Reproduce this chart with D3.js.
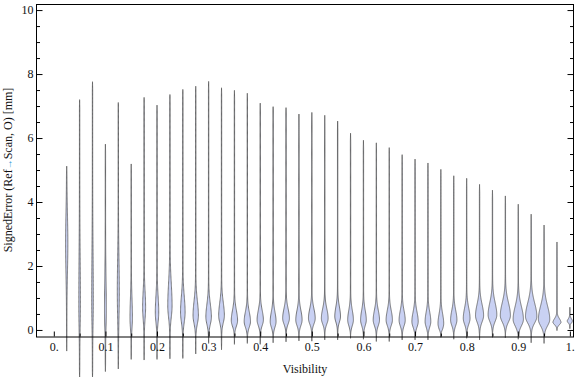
<!DOCTYPE html>
<html>
<head>
<meta charset="utf-8">
<script src="https://cdn.jsdelivr.net/npm/d3@7"></script>
<style>
  body { margin: 0; background: #fff; }
  text { font-family: "Liberation Serif", "DejaVu Serif", serif; }
</style>
</head>
<body>
<svg id="root" width="576" height="377"></svg>
<script>
var d3 = window.d3

const width = 576
const height = 377

// one violin per visibility level
const visibility = [0.025, 0.05, 0.075, 0.1, 0.125, 0.15, 0.175, 0.2, 0.225, 0.25,
  0.275, 0.3, 0.325, 0.35, 0.375, 0.4, 0.425, 0.45, 0.475, 0.5,
  0.525, 0.55, 0.575, 0.6, 0.625, 0.65, 0.675, 0.7, 0.725, 0.75,
  0.775, 0.8, 0.825, 0.85, 0.875, 0.9, 0.925, 0.95, 0.975, 1.0]

// largest and smallest signed error per violin [mm]
const maxErr = [5.12, 7.20, 7.76, 5.81, 7.11, 5.19, 7.27, 7.03, 7.36, 7.52,
  7.62, 7.77, 7.57, 7.49, 7.40, 7.09, 6.98, 6.95, 6.75, 6.80,
  6.71, 6.53, 6.15, 5.93, 5.85, 5.70, 5.48, 5.34, 5.22, 5.02,
  4.82, 4.74, 4.55, 4.37, 4.19, 3.93, 3.62, 3.28, 2.75, 0.71]
const minErr = [-0.66, -1.5, -1.5, -1.30, -1.22, -0.92, -0.94, -0.92, -0.90, -0.89,
  -0.75, -0.42, -0.62, -0.45, -0.42, -0.45, -0.40, -0.37, -0.34, -0.35,
  -0.31, -0.31, -0.26, -0.29, -0.36, -0.36, -0.31, -0.31, -0.31, -0.23,
  -0.29, -0.26, -0.31, -0.23, -0.24, -0.29, -0.40, -0.42, -0.02, 0.04]

// where the density peaks, how high it peaks, and how it spreads above / below
const modeErr = [2.7, 0.8, 0.9, 0.6, 1.2, 0.37, 0.7, 0.55, 0.75, 0.55,
  0.45, 0.4, 0.45, 0.29, 0.26, 0.31, 0.26, 0.36, 0.31, 0.36,
  0.36, 0.42, 0.31, 0.31, 0.31, 0.31, 0.3, 0.26, 0.26, 0.2,
  0.31, 0.36, 0.45, 0.47, 0.45, 0.33, 0.42, 0.33, 0.23, 0.26]
const peakDensity = [0.22, 0.14, 0.14, 0.17, 0.19, 0.24, 0.30, 0.35, 0.45, 0.48,
  0.57, 0.59, 0.61, 0.68, 0.68, 0.68, 0.63, 0.73, 0.68, 0.73,
  0.73, 0.61, 0.61, 0.61, 0.68, 0.68, 0.66, 0.68, 0.61, 0.61,
  0.68, 0.73, 0.88, 0.95, 1.11, 1.13, 1.25, 1.25, 0.88, 0.59]
const spreadUp = [0.9, 1.5, 1.5, 1.0, 1.0, 0.6, 0.5, 0.5, 0.7, 0.5,
  0.45, 0.4, 0.4, 0.32, 0.3, 0.3, 0.3, 0.3, 0.3, 0.3,
  0.3, 0.3, 0.3, 0.3, 0.3, 0.3, 0.3, 0.3, 0.3, 0.3,
  0.3, 0.32, 0.35, 0.38, 0.4, 0.4, 0.42, 0.42, 0.12, 0.08]
const spreadDown = [0.9, 0.7, 0.7, 0.5, 0.8, 0.3, 0.35, 0.3, 0.35, 0.3,
  0.25, 0.22, 0.22, 0.17, 0.17, 0.17, 0.17, 0.17, 0.17, 0.17,
  0.17, 0.17, 0.17, 0.17, 0.17, 0.17, 0.17, 0.17, 0.17, 0.17,
  0.17, 0.18, 0.2, 0.2, 0.2, 0.2, 0.2, 0.2, 0.1, 0.06]
const tailDensity = 0.04

// ticks
const xTicks = [0, 0.1, 0.2, 0.3, 0.4, 0.5, 0.6, 0.7, 0.8, 0.9, 1]
const xTickLabels = ['0.', '0.1', '0.2', '0.3', '0.4', '0.5', '0.6', '0.7', '0.8', '0.9', '1.']
const xMinorTicks = [0.05, 0.15, 0.25, 0.35, 0.45, 0.55, 0.65, 0.75, 0.85, 0.95]
const yTicks = [0, 2, 4, 6, 8, 10]
const yMinorTicks = d3.range(0, 10.01, 0.5).filter(d => d % 2 !== 0)

const svg = d3.select('#root')

const xScale = d3.scaleLinear().domain([-0.0345, 1.008]).range([36, 574])
const yScale = d3.scaleLinear().domain([-0.22, 10.19]).range([337, 4])
const wScale = d3.scaleLinear().domain([0, 1.5]).range([0, 6.6])

// density model for violin i at error value v
function density (i, v) {
  const m = modeErr[i]
  const s = v >= m ? spreadUp[i] : spreadDown[i]
  const z = (v - m) / s
  const edge = Math.min(v - minErr[i], maxErr[i] - v)
  return (peakDensity[i] * Math.exp(-0.5 * z * z) + tailDensity) * Math.min(1, Math.max(0, edge) / 0.25)
}

const area = d3.area()
  .y(d => yScale(d.v))
  .x0(d => d.cx - wScale(d.d))
  .x1(d => d.cx + wScale(d.d))
  .curve(d3.curveBasis)

const violins = visibility.map((vis, i) => {
  const lo = minErr[i]
  const hi = maxErr[i]
  const n = 220
  const cx = xScale(vis)
  return d3.range(n + 1).map(k => {
    const v = lo + (hi - lo) * k / n
    return { v: v, d: density(i, v), cx: cx }
  })
})

svg.append('g')
  .selectAll('path.violin')
  .data(violins)
  .enter()
  .append('path')
  .attr('class', 'violin')
  .attr('d', area)
  .attr('fill', '#c9d1f3')
  .attr('stroke', '#555')
  .attr('stroke-opacity', 0.85)
  .attr('stroke-width', 0.9)

// frame
svg.append('rect')
  .attr('x', 36.5)
  .attr('y', 4.5)
  .attr('width', 537)
  .attr('height', 332.5)
  .attr('fill', 'none')
  .attr('stroke', '#000')
  .attr('stroke-width', 1)

// axes
const left = svg.append('g').attr('transform', 'translate(36.5,0)')
left.call(d3.axisLeft(yScale).tickValues(yTicks).tickSize(-6).tickPadding(3).tickFormat(d3.format('d')))
left.append('g').call(d3.axisLeft(yScale).tickValues(yMinorTicks).tickSize(-3.5).tickFormat(''))

const right = svg.append('g').attr('transform', 'translate(573.5,0)')
right.call(d3.axisRight(yScale).tickValues(yTicks).tickSize(-6).tickFormat(''))
right.append('g').call(d3.axisRight(yScale).tickValues(yMinorTicks).tickSize(-3.5).tickFormat(''))

const bottom = svg.append('g').attr('transform', 'translate(0,336.5)')
bottom.call(d3.axisBottom(xScale).tickValues(xTicks).tickSize(-5).tickPadding(6)
  .tickFormat((d, i) => xTickLabels[i]))
bottom.append('g').call(d3.axisBottom(xScale).tickValues(xMinorTicks).tickSize(-3).tickFormat(''))

svg.selectAll('.domain').remove()
svg.selectAll('.tick line').attr('stroke', '#000')
svg.selectAll('.tick text')
  .attr('fill', '#111')
  .style('font-family', '"Liberation Serif", serif')
  .style('font-size', '12px')

// axis titles
svg.append('text')
  .attr('x', 305)
  .attr('y', 373)
  .attr('text-anchor', 'middle')
  .attr('font-size', 12)
  .attr('fill', '#111')
  .text('Visibility')

const ylab = svg.append('text')
  .attr('transform', 'translate(11.5,170)rotate(-90)')
  .attr('text-anchor', 'middle')
  .attr('font-size', 12)
  .attr('fill', '#111')
ylab.append('tspan').text('SignedError (Ref')
ylab.append('tspan').attr('fill', '#3b9ad9').attr('font-size', 10).text('→')
ylab.append('tspan').text('Scan, O) [mm]')
</script>
</body>
</html>
